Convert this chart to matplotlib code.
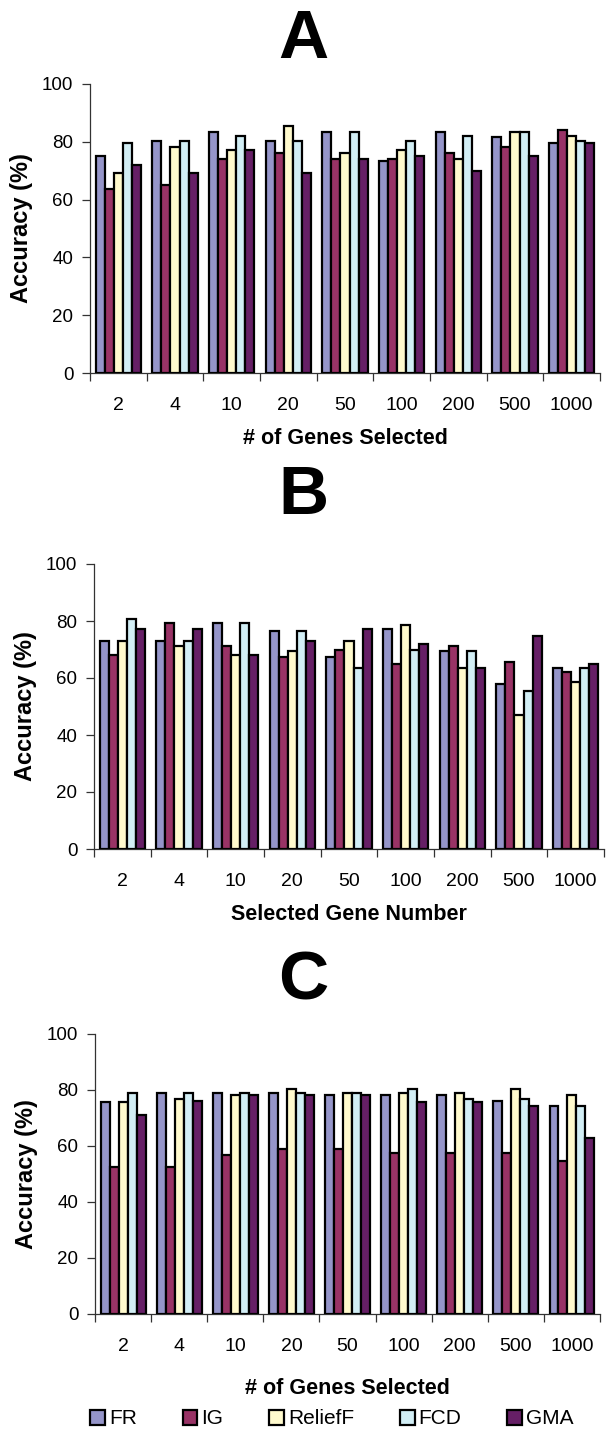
import matplotlib
matplotlib.use("Agg")
import matplotlib.pyplot as plt
import numpy as np

plt.rcParams["font.family"] = ["Liberation Sans", "DejaVu Sans"]

genes = ["2", "4", "10", "20", "50", "100", "200", "500", "1000"]
methods = ["FR", "IG", "ReliefF", "FCD", "GMA"]
colors = ["#9595C9", "#993366", "#FFFACD", "#D2EEF5", "#661F66"]

# panel A
acc_a = {
    "FR":      [75.2, 80.2, 83.5, 80.2, 83.5, 73.3, 83.5, 81.5, 79.5],
    "IG":      [63.7, 65.0, 74.0, 76.0, 74.0, 74.0, 76.0, 78.1, 84.2],
    "ReliefF": [69.1, 78.1, 77.3, 85.5, 76.0, 77.3, 74.0, 83.5, 82.1],
    "FCD":     [79.5, 80.2, 82.1, 80.2, 83.5, 80.2, 82.1, 83.5, 80.2],
    "GMA":     [71.9, 69.1, 77.3, 69.1, 74.0, 75.2, 69.9, 75.2, 79.5],
}
# panel B
acc_b = {
    "FR":      [72.9, 72.9, 79.3, 76.5, 67.2, 77.1, 69.3, 57.8, 63.5],
    "IG":      [67.9, 79.3, 71.4, 67.2, 70.0, 64.9, 71.4, 65.6, 62.1],
    "ReliefF": [72.9, 71.4, 67.9, 69.3, 72.9, 78.6, 63.5, 47.1, 58.5],
    "FCD":     [80.7, 72.9, 79.3, 76.5, 63.5, 70.0, 69.3, 55.6, 63.5],
    "GMA":     [77.1, 77.1, 67.9, 72.9, 77.1, 72.1, 63.5, 74.9, 64.9],
}
# panel C
acc_c = {
    "FR":      [75.6, 79.1, 79.1, 79.1, 78.3, 78.3, 78.3, 76.2, 74.2],
    "IG":      [52.5, 52.5, 56.9, 59.1, 59.1, 57.6, 57.6, 57.6, 54.7],
    "ReliefF": [75.6, 76.9, 78.3, 80.4, 79.1, 79.1, 79.1, 80.4, 78.3],
    "FCD":     [79.1, 79.1, 79.1, 79.1, 79.1, 80.4, 76.9, 76.9, 74.2],
    "GMA":     [71.1, 76.2, 78.3, 78.3, 78.3, 75.6, 75.6, 74.2, 62.7],
}

W, H = 608, 1441
fig = plt.figure(figsize=(W / 100, H / 100), dpi=100)


def px_axes(left, right, top, bottom):
    return fig.add_axes([left / W, 1 - bottom / H, (right - left) / W, (bottom - top) / H])


def plotter(ax, data, xlabel, lpad=10):
    x = np.arange(len(genes))
    bw = 0.16
    for k, m in enumerate(methods):
        ax.bar(x + (k - 2) * bw, data[m], bw, color=colors[k],
               edgecolor="black", linewidth=1.6, label=m, zorder=3)
    ax.set_xlim(-0.5, len(genes) - 0.5)
    ax.set_ylim(0, 100)
    ax.set_yticks(np.arange(0, 101, 20))
    ax.set_xticks(np.arange(len(genes) + 1) - 0.5)
    ax.set_xticklabels([])
    ax.set_xticks(x, minor=True)
    ax.set_xticklabels(genes, minor=True, fontsize=14)
    ax.tick_params(axis="x", which="major", length=6, width=0.9, color="#333333")
    ax.tick_params(axis="x", which="minor", length=0, pad=17)
    ax.tick_params(axis="y", length=6, width=0.9, color="#333333", labelsize=13.5, pad=6)
    for s in ["top", "right"]:
        ax.spines[s].set_visible(False)
    for s in ["left", "bottom"]:
        ax.spines[s].set_linewidth(0.9)
        ax.spines[s].set_color("#333333")
    ax.set_ylabel("Accuracy (%)", fontsize=17, fontweight="bold")
    ax.yaxis.set_label_coords(-0.112, 0.5)
    ax.set_xlabel(xlabel, fontsize=15.5, fontweight="bold", labelpad=lpad)


ax_a = px_axes(90, 600, 84, 373)
plotter(ax_a, acc_a, "# of Genes Selected")
ax_b = px_axes(94, 604, 564, 849)
plotter(ax_b, acc_b, "Selected Gene Number")
ax_c = px_axes(95, 600, 1034, 1314)
plotter(ax_c, acc_c, "# of Genes Selected", lpad=17)

for lab, yb in [("A", 58), ("B", 514), ("C", 1000)]:
    fig.text(303 / W, 1 - yb / H, lab, fontsize=50, fontweight="bold",
             ha="center", va="baseline")

handles, labels = ax_c.get_legend_handles_labels()
fig.legend(handles, labels, loc="center", bbox_to_anchor=(332 / W, 1 - 1419 / H),
           ncol=5, frameon=False, fontsize=15, handlelength=0.7, handleheight=0.7,
           handletextpad=0.2, columnspacing=2.2, borderpad=0.1)

plt.savefig("out.png", dpi=100)
